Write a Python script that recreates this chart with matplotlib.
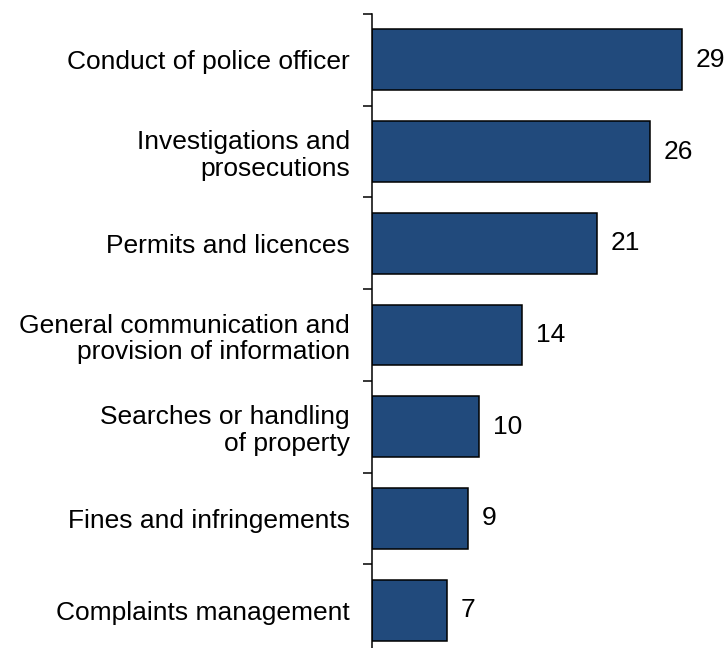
import matplotlib
matplotlib.use("Agg")
import matplotlib.pyplot as plt
import numpy as np

categories = [
    "Conduct of police officer",
    "Investigations and\nprosecutions",
    "Permits and licences",
    "General communication and\nprovision of information",
    "Searches or handling\nof property",
    "Fines and infringements",
    "Complaints management",
]
values = [29, 26, 21, 14, 10, 9, 7]

plt.rcParams["font.family"] = ["Liberation Sans", "DejaVu Sans"]

W, H, DPI = 728, 648, 100
fig = plt.figure(figsize=(W / DPI, H / DPI), dpi=DPI)

# axes placed in pixel terms; bottom runs slightly past the canvas edge
x0, x1 = 372, 725
y_top, y_bot = 14, 656
ax = fig.add_axes([x0 / W, 1 - y_bot / H, (x1 - x0) / W, (y_bot - y_top) / H])

pos = np.arange(len(categories))
ax.barh(pos, values, height=0.665, color="#214A7C", edgecolor="black", linewidth=1.1)

for p, v in zip(pos, values):
    ax.text(v + 1.3, p, str(v), va="center", ha="left", fontsize=19)

ax.set_xlim(0, 33)
ax.set_ylim(len(categories) - 0.5, -0.5)

ax.set_yticks(pos)
ax.set_yticklabels(categories, fontsize=19, linespacing=1.13)
ax.set_yticks(np.arange(len(categories) + 1) - 0.5, minor=True)
ax.tick_params(axis="y", which="major", length=0, pad=16)
ax.tick_params(axis="y", which="minor", length=6.5, width=1.1, direction="out")
ax.set_xticks([])

for s in ["top", "right", "bottom"]:
    ax.spines[s].set_visible(False)
ax.spines["left"].set_linewidth(1.1)

fig.savefig("out.png", dpi=DPI)
